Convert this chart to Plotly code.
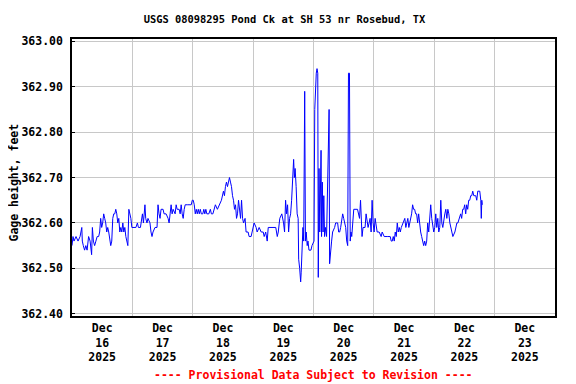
import pandas as pd
import plotly.graph_objects as go

# ---- data: hours since 2025-12-16 00:00 and gage height (ft) ----
dec16_h = [0.0, 0.4, 0.8, 1.6, 2.4, 3.2, 3.9, 4.1, 4.5, 5.0, 5.5, 6.0, 6.6, 7.2, 7.8, 8.1, 8.5, 9.0, 9.5, 10.0,
           10.6, 11.0, 11.4, 11.8, 12.2, 12.6, 13.0, 13.4, 13.8, 14.2, 14.6, 15.0, 15.4, 15.8, 16.2, 16.6, 17.0, 17.4, 17.8, 18.2,
           18.6, 19.0, 19.4, 19.8, 20.2, 20.6, 21.0, 21.4, 21.8, 22.2, 22.6, 23.0, 23.4, 23.8]
dec16_v = [362.55, 362.57, 362.56, 362.57, 362.56, 362.57, 362.59, 362.56, 362.55, 362.54,
           362.55, 362.54, 362.57, 362.56, 362.53, 362.59, 362.56, 362.55, 362.56, 362.57,
           362.57, 362.58, 362.61, 362.59, 362.60, 362.62, 362.61, 362.60, 362.58, 362.59,
           362.58, 362.56, 362.55, 362.56, 362.61, 362.62, 362.62, 362.63, 362.62, 362.60,
           362.61, 362.58, 362.59, 362.58, 362.60, 362.58, 362.59, 362.57, 362.56, 362.55,
           362.63, 362.62, 362.61, 362.59]

dec17_h = [24.6, 25.4, 26.0, 26.4, 27.2, 27.6, 28.0, 28.4, 29.0, 29.3, 29.8, 30.2, 31.0, 31.4, 31.8, 32.2, 33.0, 33.8, 34.2, 34.6,
           35.0, 35.4, 36.2, 36.6, 37.4, 38.2, 38.6, 39.0, 39.4, 39.8, 40.2, 41.0, 41.4, 41.8, 42.6, 43.0, 43.4, 43.8, 44.2, 44.6,
           45.0, 45.8, 46.6, 47.4, 47.8]
dec17_v = [362.59, 362.59, 362.60, 362.59, 362.59, 362.61, 362.62, 362.60, 362.64, 362.61,
           362.60, 362.61, 362.60, 362.58, 362.57, 362.58, 362.59, 362.59, 362.64, 362.62,
           362.61, 362.63, 362.63, 362.62, 362.62, 362.61, 362.60, 362.62, 362.64, 362.62,
           362.63, 362.62, 362.64, 362.63, 362.63, 362.62, 362.64, 362.62, 362.61, 362.63,
           362.64, 362.64, 362.64, 362.64, 362.65]

dec18_h = [48.2, 48.6, 49.0, 49.4, 49.8, 50.2, 50.6, 51.0, 51.4, 52.0, 52.4, 52.8, 53.2, 53.6, 54.4, 55.0, 55.4, 56.0, 56.6, 57.0,
           57.8, 58.6, 59.4, 60.2, 60.6, 61.0, 61.4, 61.8, 62.2, 62.6, 63.0, 63.4, 63.8, 64.2, 64.6, 65.0, 65.4, 65.8, 66.2, 66.6,
           67.0, 67.4, 67.8, 68.2, 68.8, 69.2, 70.0, 70.4, 71.2, 71.6]
dec18_v = [362.65, 362.64, 362.62, 362.63, 362.62, 362.63, 362.62, 362.63, 362.62, 362.62,
           362.63, 362.62, 362.63, 362.62, 362.62, 362.63, 362.62, 362.62, 362.63, 362.64,
           362.63, 362.64, 362.65, 362.67, 362.66, 362.68, 362.69, 362.68, 362.69, 362.70,
           362.69, 362.68, 362.66, 362.65, 362.63, 362.64, 362.61, 362.62, 362.65, 362.62,
           362.61, 362.65, 362.61, 362.60, 362.61, 362.58, 362.58, 362.57, 362.57, 362.58]

dec19_h = [72.0, 72.4, 73.2, 73.6, 74.4, 75.2, 76.0, 76.4, 77.0, 77.6, 78.0, 80.0, 81.0, 81.6, 82.0, 82.6, 83.4, 84.1, 84.5, 84.9,
           85.3, 85.7, 86.1, 86.5, 86.9, 87.3, 87.7, 88.1, 88.4, 88.7, 89.1, 89.5, 89.9, 90.1, 90.5, 90.9, 91.1, 91.5, 91.8, 92.1,
           92.5, 92.8, 93.1, 93.5, 93.8, 94.2, 95.0, 95.4]
dec19_v = [362.59, 362.60, 362.59, 362.58, 362.59, 362.58, 362.58, 362.57, 362.58, 362.56,
           362.59, 362.59, 362.59, 362.57, 362.58, 362.61, 362.62, 362.60, 362.58, 362.65,
           362.62, 362.64, 362.58, 362.61, 362.62, 362.65, 362.71, 362.74, 362.70, 362.72,
           362.68, 362.62, 362.61, 362.52, 362.50, 362.47, 362.49, 362.55, 362.59, 362.56,
           362.89, 362.56, 362.58, 362.55, 362.56, 362.54, 362.54, 362.55]

dec20_h = [96.2, 96.5, 96.8, 97.1, 97.4, 97.7, 97.9, 98.2, 98.5, 98.8, 99.0, 99.2, 99.5, 99.8, 100.1, 100.4, 100.8, 101.2, 101.6, 101.9,
           102.2, 102.4, 102.8, 103.2, 103.6, 104.4, 104.8, 105.6, 106.0, 106.4, 106.8, 107.2, 107.6, 108.0, 108.4, 108.8, 109.2, 109.6, 109.9, 110.3,
           110.6, 110.9, 111.2, 111.6, 112.0, 113.5, 113.9, 114.3, 114.7, 115.0, 115.3, 115.7, 116.5, 116.9, 117.3, 117.7, 118.1, 118.5, 118.9, 119.3,
           119.7]
dec20_v = [362.56, 362.85, 362.92, 362.93, 362.94, 362.93, 362.48, 362.72, 362.58, 362.73,
           362.76, 362.57, 362.69, 362.58, 362.66, 362.57, 362.59, 362.57, 362.70, 362.74,
           362.85, 362.51, 362.55, 362.56, 362.58, 362.59, 362.60, 362.60, 362.58, 362.58,
           362.59, 362.61, 362.62, 362.61, 362.60, 362.59, 362.56, 362.55, 362.93, 362.93,
           362.56, 362.58, 362.57, 362.61, 362.63, 362.63, 362.62, 362.61, 362.65, 362.60,
           362.57, 362.59, 362.59, 362.62, 362.60, 362.59, 362.60, 362.61, 362.58, 362.65,
           362.60]

dec21_h = [120.1, 120.5, 120.9, 121.3, 122.1, 122.9, 123.3, 124.1, 125.3, 126.5, 126.9, 127.3, 127.7, 128.1, 128.5, 128.9, 129.3, 129.7, 130.1, 130.5,
           130.9, 131.7, 132.3, 132.7, 133.1, 133.5, 133.9, 134.3, 134.7, 135.0, 135.4, 135.8, 136.2, 136.6, 137.0, 137.4, 137.8, 138.2, 138.6, 139.0,
           139.4, 139.8, 140.2, 140.6, 141.0, 141.4, 141.8, 142.2, 142.6, 143.0, 143.4, 143.8]
dec21_v = [362.58, 362.61, 362.59, 362.58, 362.58, 362.57, 362.58, 362.57, 362.57, 362.57,
           362.56, 362.56, 362.57, 362.56, 362.58, 362.57, 362.60, 362.58, 362.59, 362.58,
           362.59, 362.60, 362.61, 362.59, 362.60, 362.61, 362.59, 362.60, 362.61, 362.62,
           362.64, 362.63, 362.63, 362.62, 362.62, 362.60, 362.62, 362.59, 362.58, 362.57,
           362.56, 362.55, 362.56, 362.55, 362.56, 362.60, 362.58, 362.61, 362.64, 362.61,
           362.59, 362.58]

dec22_h = [144.2, 144.6, 145.0, 145.4, 145.8, 146.2, 146.6, 147.0, 147.4, 147.8, 148.2, 148.6, 149.0, 149.4, 149.8, 150.2, 150.6, 151.0, 151.4, 152.2,
           152.6, 153.0, 153.4, 153.8, 154.5, 154.9, 155.3, 155.7, 156.1, 156.5, 156.9, 157.3, 157.7, 158.1, 158.5, 158.9, 159.3, 159.7, 160.5, 160.9,
           161.3, 162.1, 162.5, 162.7, 162.9, 163.1]
dec22_v = [362.59, 362.62, 362.59, 362.61, 362.58, 362.59, 362.65, 362.60, 362.59, 362.61,
           362.62, 362.63, 362.61, 362.63, 362.62, 362.60, 362.59, 362.58, 362.57, 362.58,
           362.59, 362.60, 362.60, 362.61, 362.62, 362.61, 362.63, 362.63, 362.64, 362.62,
           362.64, 362.63, 362.65, 362.65, 362.66, 362.66, 362.67, 362.66, 362.66, 362.65,
           362.67, 362.67, 362.65, 362.61, 362.65, 362.64]

y_ticks = [362.40, 362.50, 362.60, 362.70, 362.80, 362.90, 363.00]
y_tick_text = ["362.40", "362.50", "362.60", "362.70", "362.80", "362.90", "363.00"]

title_text = "USGS 08098295 Pond Ck at SH 53 nr Rosebud, TX"
y_title = "Gage height, feet"
footer = "---- Provisional Data Subject to Revision ----"

hours = dec16_h + dec17_h + dec18_h + dec19_h + dec20_h + dec21_h + dec22_h
vals = dec16_v + dec17_v + dec18_v + dec19_v + dec20_v + dec21_v + dec22_v
assert len(hours) == len(vals)

base = pd.Timestamp("2025-12-16")
times = base + pd.to_timedelta(hours, unit="h")

FONT = "DejaVu Sans Mono"

fig = go.Figure(go.Scatter(x=times, y=vals, mode="lines",
                           line=dict(color="#0000ff", width=1), hoverinfo="skip"))

# the page body has an 8px margin, so the figure is 8px smaller and shifted
fig.update_layout(
    width=568, height=376,
    margin=dict(l=64, r=21, t=31, b=68),
    paper_bgcolor="white", plot_bgcolor="white",
    showlegend=False,
    title=dict(text=title_text, x=0.44, xanchor="center", xref="paper",
               y=1 - 11 / 376, yanchor="middle", yref="container",
               font=dict(family=FONT, size=10.4, color="black", weight="bold")),
    annotations=[
        dict(text=footer, xref="paper", yref="paper", x=0.5, y=-(375 - 316) / 277,
             xanchor="center", yanchor="middle", showarrow=False,
             font=dict(family=FONT, size=11.5, color="#ff0000", weight="bold")),
        dict(text=y_title, xref="paper", yref="paper", x=(13.5 - 72) / 483, y=(316 - 183) / 277,
             xanchor="center", yanchor="middle", textangle=-90, showarrow=False,
             font=dict(family=FONT, size=11.5, color="black", weight="bold")),
    ],
)

fig.update_xaxes(
    type="date",
    range=[base, base + pd.Timedelta(days=8)],
    tick0=base, dtick=86400000,
    tickformat="%b<br>%d<br>%Y", ticklabelmode="period",
    showgrid=True, gridcolor="#c8c8c8", gridwidth=1,
    showline=True, linecolor="black", linewidth=1.5, mirror=True,
    ticks="", zeroline=False,
    tickfont=dict(family=FONT, size=11.5, color="black", weight="bold"),
)

fig.update_yaxes(
    range=[362.3949, 363.0053],
    tickvals=y_ticks, ticktext=y_tick_text,
    showgrid=True, gridcolor="#c8c8c8", gridwidth=1,
    showline=True, linecolor="black", linewidth=1.5, mirror=True,
    ticks="inside", ticklen=3, tickcolor="black", ticklabelstandoff=5,
    zeroline=False,
    tickfont=dict(family=FONT, size=11.5, color="black", weight="bold"),
)

fig.write_html("out.html")
